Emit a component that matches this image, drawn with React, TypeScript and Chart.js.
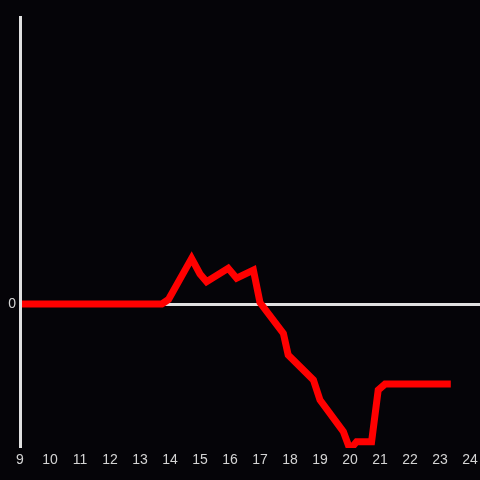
import React, { useEffect, useRef } from "react";
import { Chart, registerables } from "chart.js";

Chart.register(...registerables);

// Data (hour of day vs value)
const hours = [9, 13.73, 13.95, 14.72, 15.0, 15.22, 15.94, 16.22, 16.78, 17.0, 17.78, 17.94, 18.78, 19.0, 19.78, 20.0, 20.22, 20.72, 20.94, 21.17, 23.36];
const values = [0, 0, 0.15, 1.52, 1.0, 0.74, 1.19, 0.86, 1.13, 0.05, -0.98, -1.7, -2.53, -3.2, -4.26, -4.85, -4.59, -4.59, -2.87, -2.67, -2.67];
const xTickValues = [9, 10, 11, 12, 13, 14, 15, 16, 17, 18, 19, 20, 21, 22, 23, 24];
const yTickValues = [0];

const BG = "#050408";
const AXIS = "#e0e0e0";
const LABEL = "#d4d4d4";

const axisLinePlugin = {
  id: "axisLineOnTop",
  afterDatasetsDraw(chart: any) {
    const { ctx, chartArea } = chart;
    ctx.save();
    ctx.strokeStyle = AXIS;
    ctx.lineWidth = 3;
    ctx.beginPath();
    ctx.moveTo(chartArea.left + 0.5, chartArea.top);
    ctx.lineTo(chartArea.left + 0.5, chartArea.bottom);
    ctx.stroke();
    ctx.restore();
  },
};

const bgPlugin = {
  id: "bg",
  beforeDraw(chart: any) {
    const { ctx, width, height } = chart;
    ctx.save();
    ctx.fillStyle = BG;
    ctx.fillRect(0, 0, width, height);
    ctx.restore();
  },
};

export default function App() {
  const ref = useRef<HTMLCanvasElement>(null);
  useEffect(() => {
    document.body.style.margin = "0";
    document.body.style.background = BG;
    const canvas = ref.current!;
    const chart = new Chart(canvas, {
      type: "line",
      data: {
        datasets: [
          {
            data: hours.map((h, i) => ({ x: h, y: values[i] })),
            borderColor: "#ff0000",
            borderWidth: 7,
            pointRadius: 0,
            tension: 0,
            fill: false,
            borderJoinStyle: "miter",
            borderCapStyle: "butt",
          },
        ],
      },
      options: {
        animation: false,
        responsive: false,
        devicePixelRatio: 1,
        layout: { padding: { top: 16, left: 0, right: 0, bottom: 0 } },
        plugins: { legend: { display: false }, tooltip: { enabled: false } },
        scales: {
          x: {
            type: "linear",
            min: 9,
            max: 9 + 460 / 30,
            grid: { display: false, drawTicks: false },
            border: { display: false },
            afterBuildTicks: (s: any) => {
              s.ticks = xTickValues.map((v) => ({ value: v }));
            },
            afterFit: (s: any) => {
              s.height = 32;
              s.paddingLeft = 0;
              s.paddingRight = 0;
            },
            ticks: {
              autoSkip: false,
              maxRotation: 0,
              padding: 4,
              color: LABEL,
              font: { family: "'Liberation Sans', Arial, sans-serif", size: 14 },
              callback: (v: any) => String(v),
            },
          },
          y: {
            type: "linear",
            min: -4.8,
            max: 9.6,
            grid: { display: true, drawTicks: false, color: AXIS, lineWidth: 3 },
            border: { display: false },
            afterBuildTicks: (s: any) => {
              s.ticks = yTickValues.map((v) => ({ value: v }));
            },
            afterFit: (s: any) => {
              s.width = 20;
              s.paddingTop = 0;
              s.paddingBottom = 0;
            },
            ticks: {
              padding: 4,
              color: LABEL,
              font: { family: "'Liberation Sans', Arial, sans-serif", size: 14 },
              callback: (v: any) => String(v),
            },
          },
        },
      },
      plugins: [bgPlugin, axisLinePlugin],
    } as any);
    return () => chart.destroy();
  }, []);
  return (
    <div style={{ position: "fixed", left: 0, top: 0, width: 480, height: 480, background: BG }}>
      <canvas ref={ref} width={480} height={480} />
    </div>
  );
}
